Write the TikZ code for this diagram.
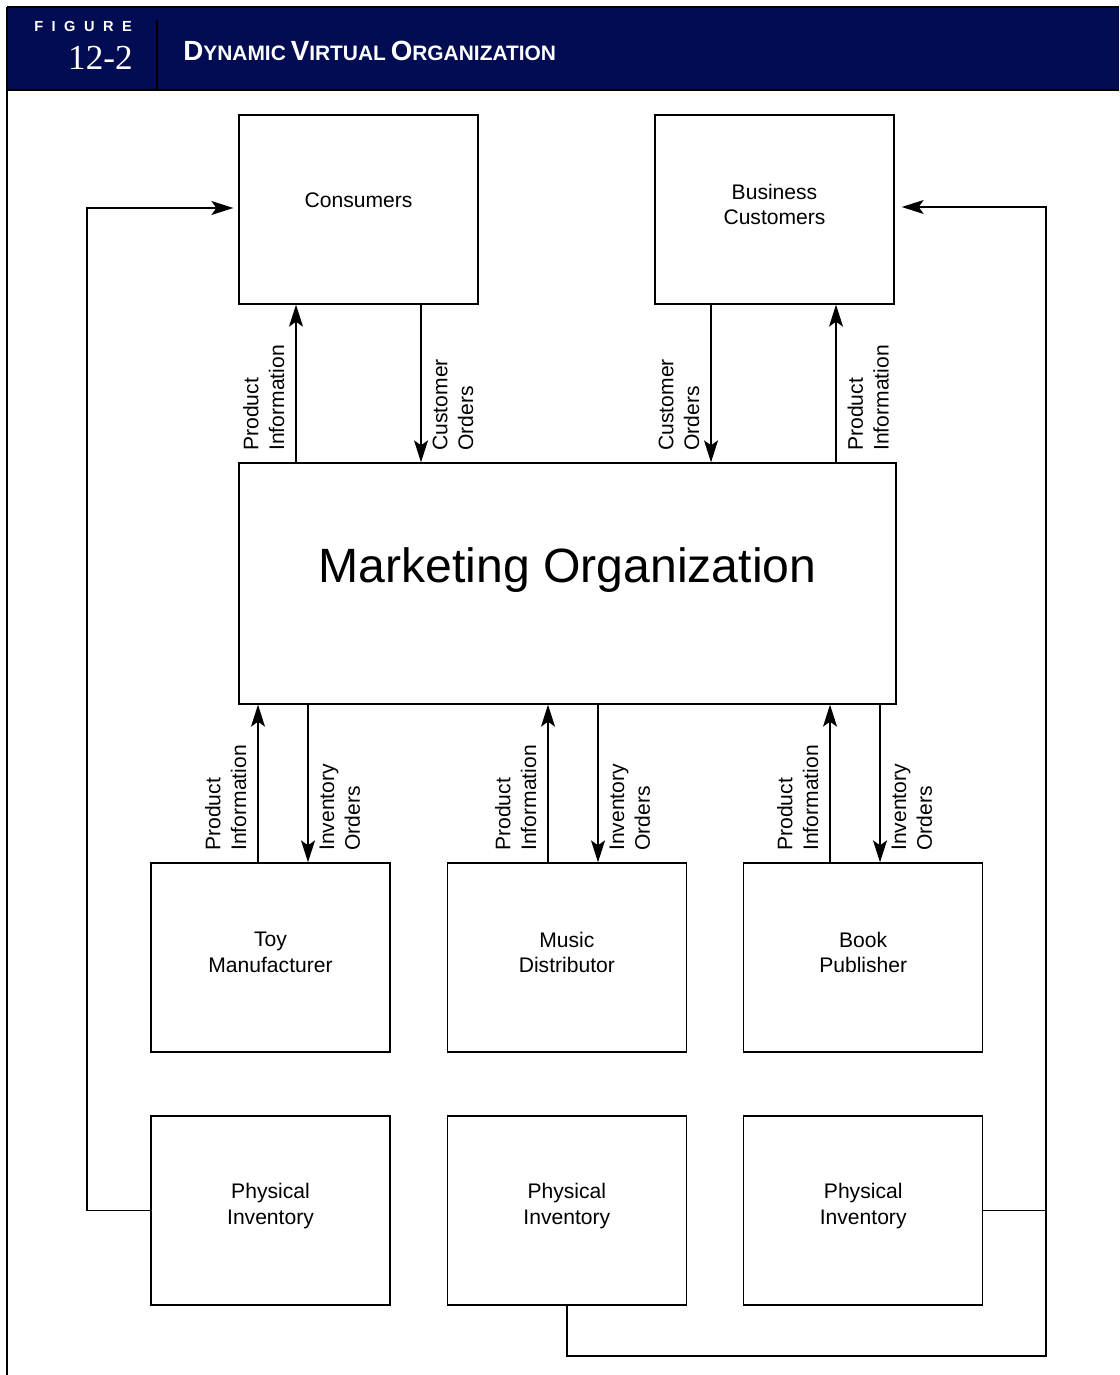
\documentclass[tikz,border=0pt]{standalone}
\usepackage{fontspec}
\setmainfont{Liberation Sans}
\newfontfamily\numfont{Liberation Serif}
\usetikzlibrary{arrows.meta,positioning}

\definecolor{hdnavy}{RGB}{2,12,82}
% fake small caps for the heading
\newcommand{\hdsc}[2]{{\fontsize{15.8}{15.8}\selectfont #1}{\fontsize{11.9}{11.9}\selectfont #2}}

\begin{document}
\begin{tikzpicture}[
  x=0.02cm, y=-0.02cm,
  box/.style={rectangle, draw, line width=0.8pt, minimum width=4.78cm,
              minimum height=3.78cm, align=center, inner sep=0pt,
              text depth=0.2cm, font=\fontsize{12}{14.6}\selectfont},
  lblleft/.style={rotate=90, anchor=south west, align=left, inner sep=0.22cm,
                  font=\fontsize{12}{14.6}\selectfont},
  lblright/.style={rotate=90, anchor=north west, align=left, inner sep=0.22cm,
                   font=\fontsize{12}{14.6}\selectfont},
  flow/.style={-{Stealth[length=4.4mm, width=2.8mm, inset=1mm]}, line width=0.8pt},
  loop/.style={line width=0.8pt},
]
  \useasboundingbox (0,0) rectangle (1119,1375);
  \fill[white] (0,0) rectangle (1119,1375);

  % -- Heading band --
  \fill[hdnavy] (8,8) rectangle (1119,90);
  \draw[line width=1.2pt] (7,7) -- (1119,7);
  \draw[line width=1.5pt] (7,90) -- (1119,90);
  \draw[line width=1.2pt] (7,7) -- (7,1375);
  \draw[line width=1.5pt] (157,20) -- (157,90);
  \node[anchor=west, inner sep=0pt, text=white,
        font=\bfseries\fontsize{8.3}{8.3}\selectfont\addfontfeatures{LetterSpace=58}] (figlbl) at (34,26) {FIGURE};
  \node[anchor=east, inner sep=0pt, text=white,
        font=\numfont\fontsize{20}{20}\selectfont] (fignum) at (133,58) {12-2};
  \node[anchor=west, inner sep=0pt, text=white, font=\bfseries] (title) at (183,51)
    {\hdsc{D}{YNAMIC} \hdsc{V}{IRTUAL} \hdsc{O}{RGANIZATION}};

  % -- Customers --
  \node[box, text depth=0.38cm] (cons) at (358.5,209.5) {Consumers};
  \node[box] (bus) at (774.5,209.5) {Business\\Customers};

  % -- Marketing Organization --
  \node[box, minimum width=13.14cm, minimum height=4.82cm, text depth=0.75cm,
        font=\fontsize{27.4}{32}\selectfont] (mkt) at (567.5,583.5) {Marketing Organization};

  % -- Producers --
  \node[box] (toy) at (270.5,957.5) {Toy\\Manufacturer};
  \node[box, right=1.12cm of toy] (music) {Music\\Distributor};
  \node[box, right=1.12cm of music] (book) {Book\\Publisher};

  % -- Inventories --
  \node[box, text depth=0.25cm, below=1.25cm of toy] (inv1) {Physical\\Inventory};
  \node[box, text depth=0.25cm, below=1.25cm of music] (inv2) {Physical\\Inventory};
  \node[box, text depth=0.25cm, below=1.25cm of book] (inv3) {Physical\\Inventory};

  % Marketing <-> customers
  \draw[flow] (mkt.north -| 296,0) -- node[at start, lblleft] {Product\\Information} (cons.south -| 296,0);
  \draw[flow] (cons.south -| 421,0) -- node[at end, lblright] {Customer\\Orders} (mkt.north -| 421,0);
  \draw[flow] (bus.south -| 711,0) -- node[at end, lblleft] {Customer\\Orders} (mkt.north -| 711,0);
  \draw[flow] (mkt.north -| 836,0) -- node[at start, lblright] {Product\\Information} (bus.south -| 836,0);

  % Producers <-> marketing
  \draw[flow] (toy.north -| 258,0) -- node[at start, lblleft] {Product\\Information} (mkt.south -| 258,0);
  \draw[flow] (mkt.south -| 308,0) -- node[at end, lblright] {Inventory\\Orders} (toy.north -| 308,0);
  \draw[flow] (music.north -| 548,0) -- node[at start, lblleft] {Product\\Information} (mkt.south -| 548,0);
  \draw[flow] (mkt.south -| 598,0) -- node[at end, lblright] {Inventory\\Orders} (music.north -| 598,0);
  \draw[flow] (book.north -| 830,0) -- node[at start, lblleft] {Product\\Information} (mkt.south -| 830,0);
  \draw[flow] (mkt.south -| 880,0) -- node[at end, lblright] {Inventory\\Orders} (book.north -| 880,0);

  % Inventory feedback lines
  \coordinate (lft) at (87,208);
  \coordinate (rgt) at (1046,1356);
  \draw[flow, shorten >=0.1cm] (inv1.west) -| (lft) -- (cons.west |- lft);
  \draw[flow, shorten >=0.14cm] (inv2.south) |- (rgt) |- ([yshift=0.05cm]bus.east);
  \draw[loop] (inv3.east) -- (inv3.east -| rgt);

\end{tikzpicture}
\end{document}
